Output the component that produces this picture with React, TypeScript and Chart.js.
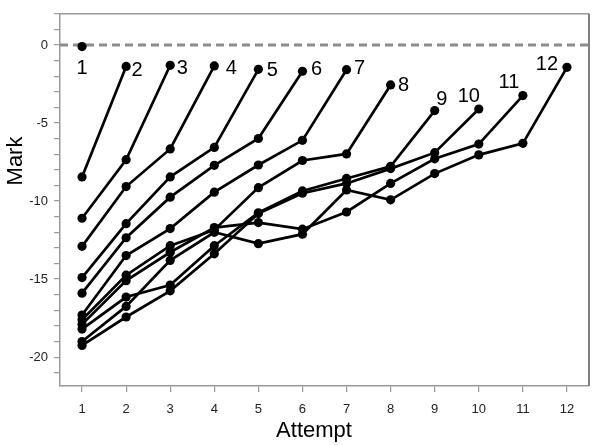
import React, { useEffect, useRef } from 'react';
import { Chart, registerables } from 'chart.js';

Chart.register(...registerables);

// Attempt numbers (x values, also the x tick labels)
const attempts = [1, 2, 3, 4, 5, 6, 7, 8, 9, 10, 11, 12];

// Marks for each student group, one value per attempt
const series1 = [-0.1];
const series2 = [-8.45, -1.37];
const series3 = [-11.1, -7.35, -1.3];
const series4 = [-12.9, -9.07, -6.66, -1.34];
const series5 = [-14.9, -11.45, -8.45, -6.56, -1.56];
const series6 = [-15.9, -12.35, -9.75, -7.71, -5.99, -1.68];
const series7 = [-17.3, -13.49, -11.76, -9.43, -7.69, -6.11, -1.58];
const series8 = [-17.6, -14.75, -12.86, -11.85, -9.14, -7.4, -6.98, -2.56];
const series9 = [-18.2, -16.15, -15.38, -12.86, -10.75, -9.35, -8.55, -7.77, -4.2];
const series10 = [-19.25, -17.43, -15.75, -13.38, -10.8, -9.5, -8.87, -7.92, -6.9, -4.1];
const series11 = [-17.9, -15.1, -13.28, -11.7, -11.38, -11.8, -10.7, -8.87, -7.29, -6.35, -3.24];
const series12 = [-19.0, -16.75, -13.8, -12.0, -12.73, -12.12, -9.29, -9.92, -8.24, -7.04, -6.3, -1.43];

const seriesLabels = ['1', '2', '3', '4', '5', '6', '7', '8', '9', '10', '11', '12'];

// reference line value
const referenceValue = [0];

// axis ranges / ticks
const xMin = 0.5;
const xMax = 12.5;
const yMin = -21.85;
const yMax = 2;
const yMajorStep = 5;

// pixel offsets of end labels from their final points (layout only)
const labelOffsets: [number, number][] = [
  [0, 22], [11, 4], [12, 3], [17, 3], [14, 1], [14, -2],
  [13, -1], [13, 1], [7, -11], [-10, -13], [-14, -13], [-20, -3],
];

const FONT = '"Liberation Sans", Arial, sans-serif';

export default function App() {
  const ref = useRef<HTMLCanvasElement>(null);

  useEffect(() => {
    document.body.style.margin = '0';
    const canvas = ref.current;
    if (!canvas) return;
    const all = [series1, series2, series3, series4, series5, series6, series7, series8, series9, series10, series11, series12];

    const datasets: any[] = all.map((s, i) => ({
      label: seriesLabels[i],
      data: s.map((v, j) => ({ x: attempts[j], y: v })),
      borderColor: '#000',
      backgroundColor: '#000',
      borderWidth: 2.7,
      pointRadius: 4.6,
      pointBorderWidth: 0,
      pointBackgroundColor: '#000',
      tension: 0,
      order: 0,
    }));
    datasets.push({
      label: 'ref',
      data: [{ x: xMin, y: referenceValue[0] }, { x: xMax, y: referenceValue[0] }],
      borderColor: '#8c8c8c',
      borderDash: [8, 5],
      borderWidth: 3,
      pointRadius: 0,
      order: 5,
    });

    const endLabels = {
      id: 'endLabels',
      afterDatasetsDraw(chart: any) {
        const { ctx, scales } = chart;
        ctx.save();
        ctx.font = `20px ${FONT}`;
        ctx.fillStyle = '#000';
        ctx.textAlign = 'center';
        ctx.textBaseline = 'middle';
        all.forEach((s, i) => {
          const last = s.length - 1;
          const px = scales.x.getPixelForValue(attempts[last]);
          const py = scales.y.getPixelForValue(s[last]);
          ctx.fillText(seriesLabels[i], px + labelOffsets[i][0], py + labelOffsets[i][1]);
        });
        ctx.restore();
      },
    };

    const frame = {
      id: 'frame',
      afterDraw(chart: any) {
        const { ctx, chartArea: a } = chart;
        ctx.save();
        ctx.strokeStyle = '#9a9a9a';
        ctx.lineWidth = 1.5;
        ctx.beginPath();
        ctx.moveTo(a.left, a.top);
        ctx.lineTo(a.right, a.top);
        ctx.stroke();
        ctx.strokeStyle = '#808080';
        ctx.lineWidth = 2;
        ctx.beginPath();
        ctx.moveTo(a.right, a.top);
        ctx.lineTo(a.right, a.bottom);
        ctx.stroke();
        // axis titles
        ctx.fillStyle = '#000';
        ctx.font = `22px ${FONT}`;
        ctx.textAlign = 'center';
        ctx.textBaseline = 'middle';
        ctx.fillText('Attempt', 314, 431);
        ctx.translate(16, 161);
        ctx.rotate(-Math.PI / 2);
        ctx.fillText('Mark', 0, 0);
        ctx.restore();
      },
    };

    const chart = new Chart(canvas, {
      type: 'line',
      data: { datasets },
      plugins: [endLabels, frame],
      options: {
        animation: false,
        responsive: false,
        events: [],
        layout: { padding: { top: 8, right: 11, left: 0, bottom: 0 } },
        plugins: { legend: { display: false }, tooltip: { enabled: false } },
        scales: {
          x: {
            type: 'linear',
            min: xMin,
            max: xMax,
            afterFit: (s: any) => { s.height = 59; },
            afterBuildTicks: (s: any) => { s.ticks = attempts.map((v) => ({ value: v })); },
            ticks: {
              autoSkip: false,
              maxRotation: 0,
              padding: 10,
              color: '#222',
              font: { family: FONT, size: 13 },
              callback: (v: any) => String(v),
            },
            grid: { drawOnChartArea: false, drawTicks: true, tickLength: 6, color: '#9a9a9a', lineWidth: 1.2 },
            border: { color: '#9a9a9a', width: 1.5 },
          },
          y: {
            type: 'linear',
            min: yMin,
            max: yMax,
            afterFit: (s: any) => { s.width = 60; },
            ticks: {
              stepSize: 1,
              includeBounds: false,
              autoSkip: false,
              padding: 6,
              color: '#222',
              font: { family: FONT, size: 13 },
              callback: (v: any) => (Math.round(v) % yMajorStep === 0 ? String(v) : ''),
            },
            grid: { drawOnChartArea: false, drawTicks: true, tickLength: 6, color: '#9a9a9a', lineWidth: 1.2 },
            border: { color: '#9a9a9a', width: 1.5 },
          },
        },
      },
    });
    return () => chart.destroy();
  }, []);

  return (
    <div style={{ width: 600, height: 445, background: '#fff' }}>
      <canvas ref={ref} width={600} height={445} />
    </div>
  );
}
